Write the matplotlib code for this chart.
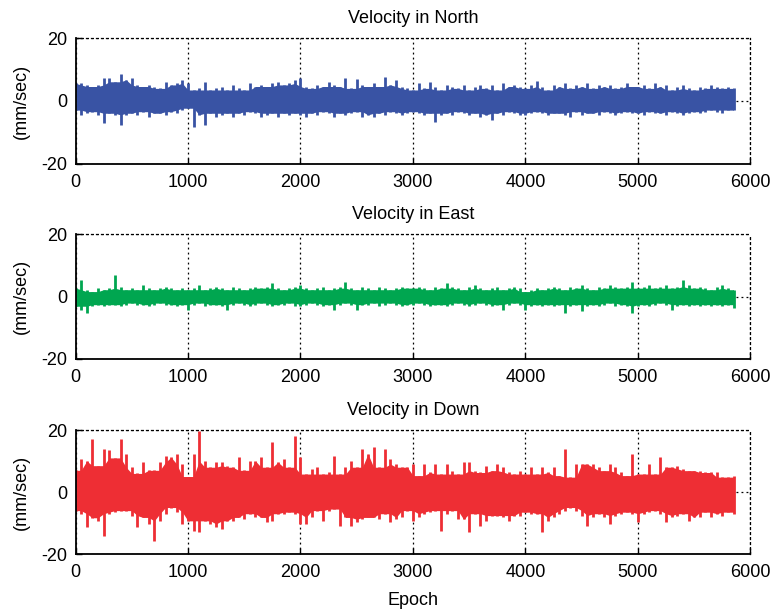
import numpy as np
import matplotlib
matplotlib.use('Agg')
import matplotlib.pyplot as plt

plt.rcParams['font.family'] = ['Liberation Sans', 'DejaVu Sans']
plt.rcParams['axes.unicode_minus'] = False

# Envelope of each velocity trace, every 50 epochs
# (upper and lower extreme of the noise band, mm/sec).
EPOCH_STEP = 50

north_hi = [5.6, 5.6, 5.1, 4.6, 5.1, 7.2, 7.4, 6.1, 8.5, 6.7, 7.2, 5.1, 4.6, 5.1, 4.6, 4.0, 6.1, 5.1, 5.6, 6.7,
            5.6, 3.5, 4.0, 6.1, 3.5, 4.0, 4.6, 3.5, 5.1, 4.0, 3.5, 5.6, 4.6, 5.1, 4.6, 5.6, 6.1, 5.1, 5.6, 6.7,
            7.2, 4.6, 4.0, 5.1, 4.6, 6.1, 5.1, 4.6, 7.2, 4.0, 6.9, 5.1, 4.6, 5.6, 4.6, 7.7, 5.1, 6.7, 4.6, 4.0,
            3.5, 5.6, 4.0, 6.1, 4.6, 3.5, 5.1, 4.6, 4.0, 5.1, 3.5, 4.6, 5.1, 4.0, 5.1, 3.5, 5.6, 4.6, 5.1, 4.6,
            4.0, 5.1, 6.3, 4.6, 3.5, 5.1, 4.6, 5.6, 4.0, 5.1, 4.6, 5.6, 4.0, 5.1, 4.6, 5.1, 4.0, 4.6, 5.6, 4.6,
            4.6, 5.1, 4.0, 5.6, 4.6, 5.1, 3.5, 4.6, 5.1, 4.0, 3.5, 4.6, 4.0, 5.1, 4.6, 4.0, 4.6, 4.0]
north_lo = [-2.9, -4.4, -3.9, -3.4, -4.4, -7.1, -3.9, -4.4, -7.6, -4.4, -3.9, -4.4, -3.4, -5.0, -3.9, -3.9, -4.4, -3.4, -3.9, -2.9,
            -2.3, -8.1, -4.4, -7.6, -3.9, -5.0, -4.4, -3.9, -5.0, -3.9, -4.4, -3.4, -3.9, -5.0, -4.4, -3.9, -5.0, -3.9, -4.4, -3.9,
            -4.4, -5.0, -3.9, -4.4, -3.4, -3.9, -5.0, -3.9, -4.4, -3.9, -3.4, -5.0, -4.4, -5.0, -3.9, -4.4, -3.4, -3.9, -4.4, -3.9,
            -3.4, -3.9, -4.4, -3.9, -6.6, -4.4, -3.9, -4.4, -3.4, -3.9, -4.4, -3.9, -5.0, -4.4, -6.0, -3.9, -4.4, -3.4, -3.9, -4.4,
            -4.4, -3.9, -3.4, -3.9, -4.4, -3.9, -3.9, -4.4, -5.0, -3.4, -4.4, -3.9, -3.9, -4.4, -3.4, -3.9, -4.4, -3.9, -3.4, -3.9,
            -3.9, -4.4, -3.4, -3.9, -3.9, -4.4, -3.4, -3.9, -4.4, -3.9, -3.4, -3.9, -3.4, -2.9, -3.4, -3.9, -2.9, -2.9]

east_hi = [2.7, 5.4, 2.2, 1.6, 2.7, 2.2, 2.7, 6.8, 3.2, 2.2, 2.7, 2.2, 3.8, 2.7, 2.2, 2.7, 3.2, 2.7, 2.2, 2.7,
           2.2, 2.7, 3.8, 2.2, 2.7, 3.2, 2.7, 2.2, 3.2, 2.7, 2.2, 2.7, 3.2, 2.7, 3.2, 4.3, 2.7, 2.2, 2.7, 3.2,
           3.8, 2.7, 2.2, 2.7, 3.2, 2.2, 2.7, 3.2, 4.6, 2.7, 2.2, 3.2, 2.7, 2.2, 3.2, 2.7, 2.2, 2.7, 3.2, 2.7,
           2.7, 3.2, 2.7, 2.2, 3.2, 2.7, 4.3, 3.2, 2.7, 2.2, 3.2, 3.8, 2.7, 2.2, 2.7, 3.2, 2.2, 2.7, 3.2, 2.7,
           1.6, 2.2, 2.7, 2.2, 2.7, 3.2, 2.7, 2.2, 3.2, 2.7, 3.8, 2.7, 2.2, 3.2, 2.7, 3.8, 3.2, 2.7, 3.2, 4.6,
           2.7, 3.2, 3.8, 2.7, 3.2, 3.8, 2.7, 3.2, 5.4, 3.8, 2.7, 3.2, 2.7, 2.2, 3.2, 3.8, 2.7, 2.2]
east_lo = [-3.1, -4.2, -5.3, -3.1, -2.6, -3.1, -2.6, -2.6, -3.1, -2.6, -2.1, -2.6, -2.6, -3.1, -2.6, -2.1, -2.6, -2.6, -3.1, -2.6,
           -4.2, -2.6, -2.1, -3.1, -2.6, -2.6, -3.1, -4.2, -2.6, -2.1, -2.6, -3.1, -2.6, -2.1, -2.6, -3.1, -2.6, -2.6, -2.1, -3.1,
           -3.1, -2.6, -2.1, -2.6, -3.1, -2.6, -4.2, -2.6, -2.1, -2.6, -4.2, -2.6, -2.6, -2.1, -3.1, -2.6, -2.1, -2.6, -3.1, -2.6,
           -2.6, -2.1, -2.6, -3.1, -2.6, -2.6, -3.1, -2.6, -2.1, -2.6, -3.1, -2.6, -2.1, -2.6, -3.1, -2.6, -4.2, -2.6, -2.1, -2.6,
           -4.2, -3.1, -2.6, -3.1, -2.6, -3.1, -2.6, -5.3, -3.1, -2.6, -4.7, -3.1, -2.6, -3.1, -2.6, -2.1, -3.1, -2.6, -3.1, -5.3,
           -3.1, -2.6, -3.1, -2.6, -2.1, -2.6, -4.2, -3.1, -2.6, -3.1, -2.6, -3.1, -2.6, -3.1, -2.6, -3.1, -2.6, -3.6]

down_hi = [7.0, 10.6, 10.0, 17.1, 8.5, 13.9, 13.5, 11.0, 17.1, 12.3, 8.0, 6.0, 9.6, 7.0, 7.0, 9.6, 11.7, 11.2, 12.3, 9.0,
           5.0, 12.3, 19.6, 10.0, 8.0, 9.6, 9.6, 8.5, 8.0, 11.2, 7.0, 10.0, 10.1, 11.2, 8.0, 16.0, 9.6, 10.6, 8.0, 18.2,
           11.2, 5.8, 7.5, 8.0, 5.8, 6.5, 11.7, 5.8, 8.0, 10.0, 8.0, 13.9, 12.3, 14.4, 8.0, 13.9, 10.6, 9.0, 8.0, 8.0,
           9.0, 5.3, 9.0, 6.3, 9.0, 5.8, 9.0, 6.9, 5.8, 9.6, 9.6, 6.9, 6.3, 8.5, 6.9, 9.0, 8.0, 6.5, 5.8, 6.9,
           5.8, 8.0, 5.8, 8.0, 6.3, 8.0, 5.3, 13.9, 4.8, 9.0, 9.0, 9.0, 9.0, 8.0, 6.9, 9.0, 8.0, 6.3, 5.3, 12.3,
           5.8, 5.8, 9.0, 5.8, 11.2, 8.0, 8.0, 8.5, 7.5, 6.9, 6.9, 6.9, 6.3, 6.3, 6.3, 4.8, 4.8, 5.3]
down_lo = [-6.0, -7.0, -11.4, -8.3, -9.3, -14.1, -7.0, -6.5, -6.0, -6.0, -7.6, -11.4, -8.2, -10.3, -15.7, -9.3, -7.0, -5.0, -6.5, -10.3,
           -9.3, -12.5, -13.0, -9.3, -10.3, -11.4, -11.8, -9.3, -9.3, -8.2, -8.8, -7.0, -8.2, -8.2, -9.8, -9.3, -7.0, -7.0, -6.5, -7.0,
           -10.3, -10.3, -8.2, -6.0, -9.3, -6.0, -5.5, -10.8, -8.2, -10.8, -9.8, -8.8, -8.2, -8.2, -8.8, -7.0, -9.8, -8.8, -8.2, -6.0,
           -9.3, -8.2, -7.0, -6.5, -6.0, -12.5, -7.0, -6.0, -8.8, -8.8, -13.0, -7.0, -10.8, -9.3, -7.6, -7.6, -8.2, -9.3, -7.6, -7.6,
           -6.5, -7.0, -7.0, -13.0, -9.3, -8.2, -7.0, -6.0, -5.0, -6.0, -7.6, -10.8, -8.2, -7.0, -8.2, -10.3, -7.6, -7.0, -6.5, -7.0,
           -9.8, -7.0, -6.5, -6.0, -7.0, -9.8, -8.2, -7.6, -7.0, -9.3, -8.2, -8.2, -6.5, -8.2, -7.0, -7.6, -6.5, -7.0]

titles = ['Velocity in North', 'Velocity in East', 'Velocity in Down']
colors = ['#3953a4', '#00a650', '#ee2e34']
series = [(north_hi, north_lo), (east_hi, east_lo), (down_hi, down_lo)]
x_ticks = [0, 1000, 2000, 3000, 4000, 5000, 6000]
y_ticks = [-20, 0, 20]


def core_band(hi, lo):
    """Dense part of the band: 3-sample running min of hi / max of lo."""
    hp = np.pad(hi, 1, mode='edge'); lp = np.pad(lo, 1, mode='edge')
    c_hi = np.minimum.reduce([hp[:-2], hp[1:-1], hp[2:]])
    c_lo = np.maximum.reduce([lp[:-2], lp[1:-1], lp[2:]])
    return c_hi, c_lo


fig = plt.figure(figsize=(7.76, 6.13), dpi=100)
# axes boxes as measured on the reference (figure fractions)
boxes = [(0.0973, 0.7325, 0.8698, 0.2055),
         (0.0973, 0.4144, 0.8698, 0.2036),
         (0.0973, 0.0962, 0.8698, 0.2023)]

for (hi, lo), title, color, box in zip(series, titles, colors, boxes):
    ax = fig.add_axes(box)
    ax.set_axisbelow(True)
    hi = np.asarray(hi); lo = np.asarray(lo)
    ep = np.arange(len(hi)) * EPOCH_STEP
    c_hi, c_lo = core_band(hi, lo)
    ax.fill_between(ep, c_lo, c_hi, color=color, lw=0)
    # each sample's full swing as a thin spike
    ax.vlines(ep, lo, hi, color=color, lw=2.0)

    ax.set_xlim(0, 6000); ax.set_ylim(-20, 20)
    ax.set_xticks(x_ticks); ax.set_yticks(y_ticks)
    ax.tick_params(direction='in', length=4, width=1, labelsize=13)
    ax.tick_params(axis='x', pad=7)
    ax.tick_params(axis='y', pad=6)
    ax.grid(True, color='black', linestyle=(0, (1.5, 2.5)), lw=0.9)
    for side in ('left', 'bottom'):
        ax.spines[side].set_linewidth(1.3)
        ax.spines[side].set_zorder(3)
    for side in ('top', 'right'):
        ax.spines[side].set_linestyle((0, (1.5, 2.5)))
        ax.spines[side].set_linewidth(0.9)
    ax.set_title(title, fontsize=13, pad=11)
    ax.set_ylabel('(mm/sec)', fontsize=13, labelpad=8)

ax.set_xlabel('Epoch', fontsize=13, labelpad=8)

plt.savefig('out.png', dpi=100)
